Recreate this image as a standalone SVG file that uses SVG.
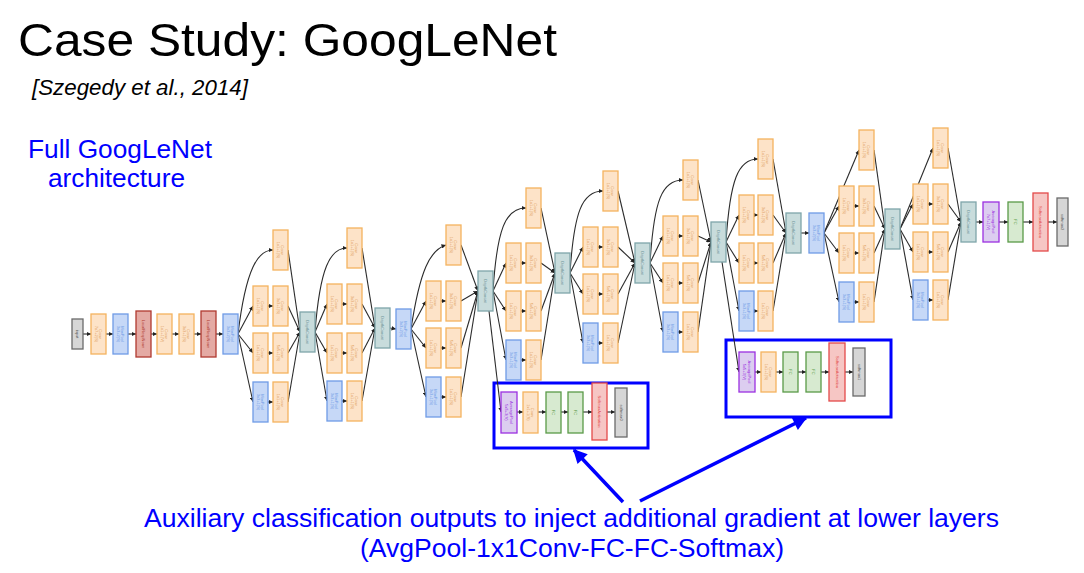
<svg xmlns="http://www.w3.org/2000/svg" width="1084" height="573" viewBox="0 0 1084 573">
<defs>
<style>
.e{fill:none;stroke:#2b2b2b;stroke-width:1.1;marker-end:url(#ah)}
.n rect{stroke-width:1.3}
.n text{font-family:"Liberation Sans",Arial,sans-serif;font-size:4px;text-anchor:middle}
.conv rect{fill:#fde3c8;stroke:#f4b35e}
.conv text{fill:#e0a060}
.pool rect{fill:#c6d8f7;stroke:#6f9be6}
.pool text{fill:#6f9be6}
.lrn rect{fill:#e4aaa4;stroke:#b03a30}
.lrn text{fill:#b03a30}
.dc rect{fill:#c8dcdc;stroke:#7ea5aa}
.dc text{fill:#6a9095}
.avg rect{fill:#dccdf0;stroke:#9b30e0}
.avg text{fill:#9b30e0}
.fc rect{fill:#d7ead0;stroke:#5a9a48}
.fc text{fill:#5a9a48}
.sma rect{fill:#f6c6c4;stroke:#e34a4a}
.sma text{fill:#e34a4a}
.sm rect{fill:#d6d6d6;stroke:#6a6a6a}
.sm text{fill:#555}
.aux{fill:none;stroke:#0000ff;stroke-width:3}
.ba{fill:none;stroke:#0000ff;stroke-width:3.5;marker-end:url(#bh)}
.t{font-family:"Liberation Sans",Arial,sans-serif;fill:#000}
.b{font-family:"Liberation Sans",Arial,sans-serif;fill:#0000ff;font-size:26px}
</style>
<marker id="ah" viewBox="0 0 6 6" refX="6" refY="3" markerWidth="4.5" markerHeight="4.5" markerUnits="userSpaceOnUse" orient="auto"><path d="M0,0 L6,3 L0,6 z" fill="#222"/></marker>
<marker id="bh" viewBox="0 0 10 10" refX="9" refY="5" markerWidth="17" markerHeight="14" markerUnits="userSpaceOnUse" orient="auto"><path d="M0,0 L10,5 L0,10 z" fill="#0000ff"/></marker>
</defs>
<rect width="1084" height="573" fill="#fff"/>

<g id="titles">
<text class="t" x="18" y="56" font-size="47" textLength="539" lengthAdjust="spacingAndGlyphs">Case Study: GoogLeNet</text>
<text class="t" x="32" y="95" font-size="22" font-style="italic" textLength="216" lengthAdjust="spacingAndGlyphs">[Szegedy et al., 2014]</text>
<text class="b" x="28" y="158" textLength="184" lengthAdjust="spacingAndGlyphs">Full GoogLeNet</text>
<text class="b" x="48" y="187" textLength="137" lengthAdjust="spacingAndGlyphs">architecture</text>
<text class="b" x="144" y="527" textLength="855" lengthAdjust="spacingAndGlyphs">Auxiliary classification outputs to inject additional gradient at lower layers</text>
<text class="b" x="360" y="557" textLength="424" lengthAdjust="spacingAndGlyphs">(AvgPool-1x1Conv-FC-FC-Softmax)</text>
</g>

<g id="aux-frames">
<rect class="aux" x="494" y="383" width="154" height="65"/>
<rect class="aux" x="726" y="340" width="165" height="77"/>
<path class="ba" d="M623 502 L574 450"/>
<path class="ba" d="M640 501 L806 418"/>
</g>

<g id="connectors">
<path class="e" d="M83 334 L91 334"/>
<path class="e" d="M106 334 L113 334"/>
<path class="e" d="M128 334 L136 334"/>
<path class="e" d="M151 334 L157 334"/>
<path class="e" d="M172 334 L179 334"/>
<path class="e" d="M194 334 L201 334"/>
<path class="e" d="M216 334 L223 334"/>
<path class="e" d="M238 334 C246 268 258 250 273 250"/>
<path class="e" d="M238 334 L253 306"/>
<path class="e" d="M238 334 L253 353"/>
<path class="e" d="M238 334 L253 402"/>
<path class="e" d="M268 306 L273 306"/>
<path class="e" d="M268 353 L273 353"/>
<path class="e" d="M268 402 L273 402"/>
<path class="e" d="M288 250 L300 332"/>
<path class="e" d="M288 306 L300 332"/>
<path class="e" d="M288 353 L300 332"/>
<path class="e" d="M288 402 L300 332"/>
<path class="e" d="M315 332 C320 268 330 248 347 248"/>
<path class="e" d="M315 332 L327 304"/>
<path class="e" d="M315 332 L327 353"/>
<path class="e" d="M315 332 L327 401"/>
<path class="e" d="M342 304 L347 304"/>
<path class="e" d="M342 353 L347 353"/>
<path class="e" d="M342 401 L347 401"/>
<path class="e" d="M362 248 L375 328"/>
<path class="e" d="M362 304 L375 328"/>
<path class="e" d="M362 353 L375 328"/>
<path class="e" d="M362 401 L375 328"/>
<path class="e" d="M390 328 L396 329"/>
<path class="e" d="M411 329 C420 270 430 250 446 245"/>
<path class="e" d="M411 329 L426 301"/>
<path class="e" d="M411 329 L426 348"/>
<path class="e" d="M411 329 L426 397"/>
<path class="e" d="M441 301 L446 301"/>
<path class="e" d="M441 348 L446 348"/>
<path class="e" d="M441 397 L446 397"/>
<path class="e" d="M461 245 L478 291"/>
<path class="e" d="M461 301 L478 291"/>
<path class="e" d="M461 348 L478 291"/>
<path class="e" d="M461 397 L478 291"/>
<path class="e" d="M493 291 C497 230 505 208 526 208"/>
<path class="e" d="M493 291 L506 263"/>
<path class="e" d="M493 291 L506 311"/>
<path class="e" d="M493 291 L506 360"/>
<path class="e" d="M521 263 L526 263"/>
<path class="e" d="M521 311 L526 311"/>
<path class="e" d="M521 360 L526 360"/>
<path class="e" d="M541 208 L555 273"/>
<path class="e" d="M541 263 L555 273"/>
<path class="e" d="M541 311 L555 273"/>
<path class="e" d="M541 360 L555 273"/>
<path class="e" d="M489 311 L501 412"/>
<path class="e" d="M517 412 L523 412"/>
<path class="e" d="M538 412 L546 412"/>
<path class="e" d="M561 412 L568 412"/>
<path class="e" d="M583 412 L592 412"/>
<path class="e" d="M607 412 L615 412"/>
<path class="e" d="M570 273 C574 212 582 191 603 191"/>
<path class="e" d="M570 273 L583 247"/>
<path class="e" d="M570 273 L583 294"/>
<path class="e" d="M570 273 L583 343"/>
<path class="e" d="M598 247 L603 247"/>
<path class="e" d="M598 294 L603 294"/>
<path class="e" d="M598 343 L603 343"/>
<path class="e" d="M618 191 L635 263"/>
<path class="e" d="M618 247 L635 263"/>
<path class="e" d="M618 294 L635 263"/>
<path class="e" d="M618 343 L635 263"/>
<path class="e" d="M650 263 C654 200 662 180 683 180"/>
<path class="e" d="M650 263 L663 236"/>
<path class="e" d="M650 263 L663 283"/>
<path class="e" d="M650 263 L663 332"/>
<path class="e" d="M678 236 L683 236"/>
<path class="e" d="M678 283 L683 283"/>
<path class="e" d="M678 332 L683 332"/>
<path class="e" d="M698 180 L711 242"/>
<path class="e" d="M698 236 L711 242"/>
<path class="e" d="M698 283 L711 242"/>
<path class="e" d="M698 332 L711 242"/>
<path class="e" d="M722 262 L739 372"/>
<path class="e" d="M755 372 L761 372"/>
<path class="e" d="M776 372 L783 372"/>
<path class="e" d="M798 372 L806 372"/>
<path class="e" d="M821 372 L829 372"/>
<path class="e" d="M845 372 L853 372"/>
<path class="e" d="M726 242 C730 180 738 159 758 159"/>
<path class="e" d="M726 242 L739 215"/>
<path class="e" d="M726 242 L739 263"/>
<path class="e" d="M726 242 L739 311"/>
<path class="e" d="M754 215 L758 215"/>
<path class="e" d="M754 263 L758 263"/>
<path class="e" d="M754 311 L758 311"/>
<path class="e" d="M773 159 L786 233"/>
<path class="e" d="M773 215 L786 233"/>
<path class="e" d="M773 263 L786 233"/>
<path class="e" d="M773 311 L786 233"/>
<path class="e" d="M801 233 L809 233"/>
<path class="e" d="M824 233 L859 150"/>
<path class="e" d="M824 233 L839 206"/>
<path class="e" d="M824 233 L839 253"/>
<path class="e" d="M824 233 L839 302"/>
<path class="e" d="M854 206 L859 206"/>
<path class="e" d="M854 253 L859 253"/>
<path class="e" d="M854 302 L859 302"/>
<path class="e" d="M874 150 L885 229"/>
<path class="e" d="M874 206 L885 229"/>
<path class="e" d="M874 253 L885 229"/>
<path class="e" d="M874 302 L885 229"/>
<path class="e" d="M900 229 L933 148"/>
<path class="e" d="M900 229 L913 204"/>
<path class="e" d="M900 229 L913 252"/>
<path class="e" d="M900 229 L913 300"/>
<path class="e" d="M928 204 L933 204"/>
<path class="e" d="M928 252 L933 252"/>
<path class="e" d="M928 300 L933 300"/>
<path class="e" d="M948 148 L961 222"/>
<path class="e" d="M948 204 L961 222"/>
<path class="e" d="M948 252 L961 222"/>
<path class="e" d="M948 300 L961 222"/>
<path class="e" d="M976 222 L983 222"/>
<path class="e" d="M999 222 L1008 222"/>
<path class="e" d="M1023 222 L1033 222"/>
<path class="e" d="M1048 222 L1057 222"/>
</g>

<g id="input" class="n sm"><rect x="72" y="319" width="11" height="30"/><text transform="translate(77.5,334) rotate(90)" y="1.4">input</text></g>
<g id="conv1" class="n conv"><rect x="91" y="314" width="15" height="40"/><text transform="translate(98.5,334) rotate(90)"><tspan x="0" y="-0.6">Conv</tspan><tspan x="0" y="3.8">7x7+2(S)</tspan></text></g>
<g id="pool1" class="n pool"><rect x="113" y="314" width="15" height="40"/><text transform="translate(120.5,334) rotate(90)"><tspan x="0" y="-0.6">MaxPool</tspan><tspan x="0" y="3.8">3x3+2(S)</tspan></text></g>
<g id="lrn1" class="n lrn"><rect x="136" y="311" width="15" height="46"/><text transform="translate(143.5,334) rotate(90)" y="1.4">LocalRespNorm</text></g>
<g id="conv2" class="n conv"><rect x="157" y="314" width="15" height="40"/><text transform="translate(164.5,334) rotate(90)"><tspan x="0" y="-0.6">Conv</tspan><tspan x="0" y="3.8">1x1+1(V)</tspan></text></g>
<g id="conv3" class="n conv"><rect x="179" y="314" width="15" height="40"/><text transform="translate(186.5,334) rotate(90)"><tspan x="0" y="-0.6">Conv</tspan><tspan x="0" y="3.8">3x3+1(S)</tspan></text></g>
<g id="lrn2" class="n lrn"><rect x="201" y="311" width="15" height="46"/><text transform="translate(208.5,334) rotate(90)" y="1.4">LocalRespNorm</text></g>
<g id="pool2" class="n pool"><rect x="223" y="314" width="15" height="40"/><text transform="translate(230.5,334) rotate(90)"><tspan x="0" y="-0.6">MaxPool</tspan><tspan x="0" y="3.8">3x3+2(S)</tspan></text></g>

<g id="i3a-1" class="n conv"><rect x="273" y="230" width="15" height="40"/><text transform="translate(280.5,250) rotate(90)"><tspan x="0" y="-0.6">Conv</tspan><tspan x="0" y="3.8">1x1+1(S)</tspan></text></g>
<g id="i3a-2a" class="n conv"><rect x="253" y="286" width="15" height="40"/><text transform="translate(260.5,306) rotate(90)"><tspan x="0" y="-0.6">Conv</tspan><tspan x="0" y="3.8">1x1+1(S)</tspan></text></g>
<g id="i3a-2b" class="n conv"><rect x="273" y="286" width="15" height="40"/><text transform="translate(280.5,306) rotate(90)"><tspan x="0" y="-0.6">Conv</tspan><tspan x="0" y="3.8">3x3+1(S)</tspan></text></g>
<g id="i3a-3a" class="n conv"><rect x="253" y="333" width="15" height="40"/><text transform="translate(260.5,353) rotate(90)"><tspan x="0" y="-0.6">Conv</tspan><tspan x="0" y="3.8">1x1+1(S)</tspan></text></g>
<g id="i3a-3b" class="n conv"><rect x="273" y="333" width="15" height="40"/><text transform="translate(280.5,353) rotate(90)"><tspan x="0" y="-0.6">Conv</tspan><tspan x="0" y="3.8">5x5+1(S)</tspan></text></g>
<g id="i3a-4a" class="n pool"><rect x="253" y="382" width="15" height="40"/><text transform="translate(260.5,402) rotate(90)"><tspan x="0" y="-0.6">MaxPool</tspan><tspan x="0" y="3.8">3x3+1(S)</tspan></text></g>
<g id="i3a-4b" class="n conv"><rect x="273" y="382" width="15" height="40"/><text transform="translate(280.5,402) rotate(90)"><tspan x="0" y="-0.6">Conv</tspan><tspan x="0" y="3.8">1x1+1(S)</tspan></text></g>
<g id="i3a-dc" class="n dc"><rect x="300" y="312" width="15" height="40"/><text transform="translate(307.5,332) rotate(90)" y="1.4">DepthConcat</text></g>

<g id="i3b-1" class="n conv"><rect x="347" y="228" width="15" height="40"/><text transform="translate(354.5,248) rotate(90)"><tspan x="0" y="-0.6">Conv</tspan><tspan x="0" y="3.8">1x1+1(S)</tspan></text></g>
<g id="i3b-2a" class="n conv"><rect x="327" y="284" width="15" height="40"/><text transform="translate(334.5,304) rotate(90)"><tspan x="0" y="-0.6">Conv</tspan><tspan x="0" y="3.8">1x1+1(S)</tspan></text></g>
<g id="i3b-2b" class="n conv"><rect x="347" y="284" width="15" height="40"/><text transform="translate(354.5,304) rotate(90)"><tspan x="0" y="-0.6">Conv</tspan><tspan x="0" y="3.8">3x3+1(S)</tspan></text></g>
<g id="i3b-3a" class="n conv"><rect x="327" y="333" width="15" height="40"/><text transform="translate(334.5,353) rotate(90)"><tspan x="0" y="-0.6">Conv</tspan><tspan x="0" y="3.8">1x1+1(S)</tspan></text></g>
<g id="i3b-3b" class="n conv"><rect x="347" y="333" width="15" height="40"/><text transform="translate(354.5,353) rotate(90)"><tspan x="0" y="-0.6">Conv</tspan><tspan x="0" y="3.8">5x5+1(S)</tspan></text></g>
<g id="i3b-4a" class="n pool"><rect x="327" y="381" width="15" height="40"/><text transform="translate(334.5,401) rotate(90)"><tspan x="0" y="-0.6">MaxPool</tspan><tspan x="0" y="3.8">3x3+1(S)</tspan></text></g>
<g id="i3b-4b" class="n conv"><rect x="347" y="381" width="15" height="40"/><text transform="translate(354.5,401) rotate(90)"><tspan x="0" y="-0.6">Conv</tspan><tspan x="0" y="3.8">1x1+1(S)</tspan></text></g>
<g id="i3b-dc" class="n dc"><rect x="375" y="308" width="15" height="40"/><text transform="translate(382.5,328) rotate(90)" y="1.4">DepthConcat</text></g>
<g id="pool3" class="n pool"><rect x="396" y="309" width="15" height="40"/><text transform="translate(403.5,329) rotate(90)"><tspan x="0" y="-0.6">MaxPool</tspan><tspan x="0" y="3.8">3x3+2(S)</tspan></text></g>

<g id="i4a-1" class="n conv"><rect x="446" y="225" width="15" height="40"/><text transform="translate(453.5,245) rotate(90)"><tspan x="0" y="-0.6">Conv</tspan><tspan x="0" y="3.8">1x1+1(S)</tspan></text></g>
<g id="i4a-2a" class="n conv"><rect x="426" y="281" width="15" height="40"/><text transform="translate(433.5,301) rotate(90)"><tspan x="0" y="-0.6">Conv</tspan><tspan x="0" y="3.8">1x1+1(S)</tspan></text></g>
<g id="i4a-2b" class="n conv"><rect x="446" y="281" width="15" height="40"/><text transform="translate(453.5,301) rotate(90)"><tspan x="0" y="-0.6">Conv</tspan><tspan x="0" y="3.8">3x3+1(S)</tspan></text></g>
<g id="i4a-3a" class="n conv"><rect x="426" y="328" width="15" height="40"/><text transform="translate(433.5,348) rotate(90)"><tspan x="0" y="-0.6">Conv</tspan><tspan x="0" y="3.8">1x1+1(S)</tspan></text></g>
<g id="i4a-3b" class="n conv"><rect x="446" y="328" width="15" height="40"/><text transform="translate(453.5,348) rotate(90)"><tspan x="0" y="-0.6">Conv</tspan><tspan x="0" y="3.8">5x5+1(S)</tspan></text></g>
<g id="i4a-4a" class="n pool"><rect x="426" y="377" width="15" height="40"/><text transform="translate(433.5,397) rotate(90)"><tspan x="0" y="-0.6">MaxPool</tspan><tspan x="0" y="3.8">3x3+1(S)</tspan></text></g>
<g id="i4a-4b" class="n conv"><rect x="446" y="377" width="15" height="40"/><text transform="translate(453.5,397) rotate(90)"><tspan x="0" y="-0.6">Conv</tspan><tspan x="0" y="3.8">1x1+1(S)</tspan></text></g>
<g id="i4a-dc" class="n dc"><rect x="478" y="271" width="15" height="40"/><text transform="translate(485.5,291) rotate(90)" y="1.4">DepthConcat</text></g>

<g id="i4b-1" class="n conv"><rect x="526" y="188" width="15" height="40"/><text transform="translate(533.5,208) rotate(90)"><tspan x="0" y="-0.6">Conv</tspan><tspan x="0" y="3.8">1x1+1(S)</tspan></text></g>
<g id="i4b-2a" class="n conv"><rect x="506" y="243" width="15" height="40"/><text transform="translate(513.5,263) rotate(90)"><tspan x="0" y="-0.6">Conv</tspan><tspan x="0" y="3.8">1x1+1(S)</tspan></text></g>
<g id="i4b-2b" class="n conv"><rect x="526" y="243" width="15" height="40"/><text transform="translate(533.5,263) rotate(90)"><tspan x="0" y="-0.6">Conv</tspan><tspan x="0" y="3.8">3x3+1(S)</tspan></text></g>
<g id="i4b-3a" class="n conv"><rect x="506" y="291" width="15" height="40"/><text transform="translate(513.5,311) rotate(90)"><tspan x="0" y="-0.6">Conv</tspan><tspan x="0" y="3.8">1x1+1(S)</tspan></text></g>
<g id="i4b-3b" class="n conv"><rect x="526" y="291" width="15" height="40"/><text transform="translate(533.5,311) rotate(90)"><tspan x="0" y="-0.6">Conv</tspan><tspan x="0" y="3.8">5x5+1(S)</tspan></text></g>
<g id="i4b-4a" class="n pool"><rect x="506" y="340" width="15" height="40"/><text transform="translate(513.5,360) rotate(90)"><tspan x="0" y="-0.6">MaxPool</tspan><tspan x="0" y="3.8">3x3+1(S)</tspan></text></g>
<g id="i4b-4b" class="n conv"><rect x="526" y="340" width="15" height="40"/><text transform="translate(533.5,360) rotate(90)"><tspan x="0" y="-0.6">Conv</tspan><tspan x="0" y="3.8">1x1+1(S)</tspan></text></g>
<g id="i4b-dc" class="n dc"><rect x="555" y="253" width="15" height="40"/><text transform="translate(562.5,273) rotate(90)" y="1.4">DepthConcat</text></g>

<g id="aux1-avg" class="n avg"><rect x="501" y="392" width="16" height="41"/><text transform="translate(509,412.5) rotate(90)"><tspan x="0" y="-0.6">AveragePool</tspan><tspan x="0" y="3.8">5x5+3(V)</tspan></text></g>
<g id="aux1-conv" class="n conv"><rect x="523" y="392" width="15" height="41"/><text transform="translate(530.5,412.5) rotate(90)"><tspan x="0" y="-0.6">Conv</tspan><tspan x="0" y="3.8">1x1+1(S)</tspan></text></g>
<g id="aux1-fc1" class="n fc"><rect x="546" y="392" width="15" height="41"/><text transform="translate(553.5,412.5) rotate(90)" y="1.4">FC</text></g>
<g id="aux1-fc2" class="n fc"><rect x="568" y="392" width="15" height="41"/><text transform="translate(575.5,412.5) rotate(90)" y="1.4">FC</text></g>
<g id="aux1-sma" class="n sma"><rect x="592" y="383" width="15" height="57"/><text transform="translate(599.5,411.5) rotate(90)" y="1.4">SoftmaxActivation</text></g>
<g id="aux1-sm" class="n sm"><rect x="615" y="388" width="12" height="49"/><text transform="translate(621,412.5) rotate(90)" y="1.4">softmax0</text></g>

<g id="i4c-1" class="n conv"><rect x="603" y="171" width="15" height="40"/><text transform="translate(610.5,191) rotate(90)"><tspan x="0" y="-0.6">Conv</tspan><tspan x="0" y="3.8">1x1+1(S)</tspan></text></g>
<g id="i4c-2a" class="n conv"><rect x="583" y="227" width="15" height="40"/><text transform="translate(590.5,247) rotate(90)"><tspan x="0" y="-0.6">Conv</tspan><tspan x="0" y="3.8">1x1+1(S)</tspan></text></g>
<g id="i4c-2b" class="n conv"><rect x="603" y="227" width="15" height="40"/><text transform="translate(610.5,247) rotate(90)"><tspan x="0" y="-0.6">Conv</tspan><tspan x="0" y="3.8">3x3+1(S)</tspan></text></g>
<g id="i4c-3a" class="n conv"><rect x="583" y="274" width="15" height="40"/><text transform="translate(590.5,294) rotate(90)"><tspan x="0" y="-0.6">Conv</tspan><tspan x="0" y="3.8">1x1+1(S)</tspan></text></g>
<g id="i4c-3b" class="n conv"><rect x="603" y="274" width="15" height="40"/><text transform="translate(610.5,294) rotate(90)"><tspan x="0" y="-0.6">Conv</tspan><tspan x="0" y="3.8">5x5+1(S)</tspan></text></g>
<g id="i4c-4a" class="n pool"><rect x="583" y="323" width="15" height="40"/><text transform="translate(590.5,343) rotate(90)"><tspan x="0" y="-0.6">MaxPool</tspan><tspan x="0" y="3.8">3x3+1(S)</tspan></text></g>
<g id="i4c-4b" class="n conv"><rect x="603" y="323" width="15" height="40"/><text transform="translate(610.5,343) rotate(90)"><tspan x="0" y="-0.6">Conv</tspan><tspan x="0" y="3.8">1x1+1(S)</tspan></text></g>
<g id="i4c-dc" class="n dc"><rect x="635" y="243" width="15" height="40"/><text transform="translate(642.5,263) rotate(90)" y="1.4">DepthConcat</text></g>

<g id="i4d-1" class="n conv"><rect x="683" y="160" width="15" height="40"/><text transform="translate(690.5,180) rotate(90)"><tspan x="0" y="-0.6">Conv</tspan><tspan x="0" y="3.8">1x1+1(S)</tspan></text></g>
<g id="i4d-2a" class="n conv"><rect x="663" y="216" width="15" height="40"/><text transform="translate(670.5,236) rotate(90)"><tspan x="0" y="-0.6">Conv</tspan><tspan x="0" y="3.8">1x1+1(S)</tspan></text></g>
<g id="i4d-2b" class="n conv"><rect x="683" y="216" width="15" height="40"/><text transform="translate(690.5,236) rotate(90)"><tspan x="0" y="-0.6">Conv</tspan><tspan x="0" y="3.8">3x3+1(S)</tspan></text></g>
<g id="i4d-3a" class="n conv"><rect x="663" y="263" width="15" height="40"/><text transform="translate(670.5,283) rotate(90)"><tspan x="0" y="-0.6">Conv</tspan><tspan x="0" y="3.8">1x1+1(S)</tspan></text></g>
<g id="i4d-3b" class="n conv"><rect x="683" y="263" width="15" height="40"/><text transform="translate(690.5,283) rotate(90)"><tspan x="0" y="-0.6">Conv</tspan><tspan x="0" y="3.8">5x5+1(S)</tspan></text></g>
<g id="i4d-4a" class="n pool"><rect x="663" y="312" width="15" height="40"/><text transform="translate(670.5,332) rotate(90)"><tspan x="0" y="-0.6">MaxPool</tspan><tspan x="0" y="3.8">3x3+1(S)</tspan></text></g>
<g id="i4d-4b" class="n conv"><rect x="683" y="312" width="15" height="40"/><text transform="translate(690.5,332) rotate(90)"><tspan x="0" y="-0.6">Conv</tspan><tspan x="0" y="3.8">1x1+1(S)</tspan></text></g>
<g id="i4d-dc" class="n dc"><rect x="711" y="222" width="15" height="40"/><text transform="translate(718.5,242) rotate(90)" y="1.4">DepthConcat</text></g>

<g id="aux2-avg" class="n avg"><rect x="739" y="352" width="16" height="40"/><text transform="translate(747,372) rotate(90)"><tspan x="0" y="-0.6">AveragePool</tspan><tspan x="0" y="3.8">5x5+3(V)</tspan></text></g>
<g id="aux2-conv" class="n conv"><rect x="761" y="352" width="15" height="40"/><text transform="translate(768.5,372) rotate(90)"><tspan x="0" y="-0.6">Conv</tspan><tspan x="0" y="3.8">1x1+1(S)</tspan></text></g>
<g id="aux2-fc1" class="n fc"><rect x="783" y="352" width="15" height="40"/><text transform="translate(790.5,372) rotate(90)" y="1.4">FC</text></g>
<g id="aux2-fc2" class="n fc"><rect x="806" y="352" width="15" height="40"/><text transform="translate(813.5,372) rotate(90)" y="1.4">FC</text></g>
<g id="aux2-sma" class="n sma"><rect x="829" y="343" width="16" height="58"/><text transform="translate(837,372) rotate(90)" y="1.4">SoftmaxActivation</text></g>
<g id="aux2-sm" class="n sm"><rect x="853" y="348" width="12" height="48"/><text transform="translate(859,372) rotate(90)" y="1.4">softmax1</text></g>

<g id="i4e-1" class="n conv"><rect x="758" y="139" width="15" height="40"/><text transform="translate(765.5,159) rotate(90)"><tspan x="0" y="-0.6">Conv</tspan><tspan x="0" y="3.8">1x1+1(S)</tspan></text></g>
<g id="i4e-2a" class="n conv"><rect x="739" y="195" width="15" height="40"/><text transform="translate(746.5,215) rotate(90)"><tspan x="0" y="-0.6">Conv</tspan><tspan x="0" y="3.8">1x1+1(S)</tspan></text></g>
<g id="i4e-2b" class="n conv"><rect x="758" y="195" width="15" height="40"/><text transform="translate(765.5,215) rotate(90)"><tspan x="0" y="-0.6">Conv</tspan><tspan x="0" y="3.8">3x3+1(S)</tspan></text></g>
<g id="i4e-3a" class="n conv"><rect x="739" y="243" width="15" height="40"/><text transform="translate(746.5,263) rotate(90)"><tspan x="0" y="-0.6">Conv</tspan><tspan x="0" y="3.8">1x1+1(S)</tspan></text></g>
<g id="i4e-3b" class="n conv"><rect x="758" y="243" width="15" height="40"/><text transform="translate(765.5,263) rotate(90)"><tspan x="0" y="-0.6">Conv</tspan><tspan x="0" y="3.8">5x5+1(S)</tspan></text></g>
<g id="i4e-4a" class="n pool"><rect x="739" y="291" width="15" height="40"/><text transform="translate(746.5,311) rotate(90)"><tspan x="0" y="-0.6">MaxPool</tspan><tspan x="0" y="3.8">3x3+1(S)</tspan></text></g>
<g id="i4e-4b" class="n conv"><rect x="758" y="291" width="15" height="40"/><text transform="translate(765.5,311) rotate(90)"><tspan x="0" y="-0.6">Conv</tspan><tspan x="0" y="3.8">1x1+1(S)</tspan></text></g>
<g id="i4e-dc" class="n dc"><rect x="786" y="213" width="15" height="40"/><text transform="translate(793.5,233) rotate(90)" y="1.4">DepthConcat</text></g>
<g id="pool4" class="n pool"><rect x="809" y="213" width="15" height="40"/><text transform="translate(816.5,233) rotate(90)"><tspan x="0" y="-0.6">MaxPool</tspan><tspan x="0" y="3.8">3x3+2(S)</tspan></text></g>

<g id="i5a-1" class="n conv"><rect x="859" y="130" width="15" height="40"/><text transform="translate(866.5,150) rotate(90)"><tspan x="0" y="-0.6">Conv</tspan><tspan x="0" y="3.8">1x1+1(S)</tspan></text></g>
<g id="i5a-2a" class="n conv"><rect x="839" y="186" width="15" height="40"/><text transform="translate(846.5,206) rotate(90)"><tspan x="0" y="-0.6">Conv</tspan><tspan x="0" y="3.8">1x1+1(S)</tspan></text></g>
<g id="i5a-2b" class="n conv"><rect x="859" y="186" width="15" height="40"/><text transform="translate(866.5,206) rotate(90)"><tspan x="0" y="-0.6">Conv</tspan><tspan x="0" y="3.8">3x3+1(S)</tspan></text></g>
<g id="i5a-3a" class="n conv"><rect x="839" y="233" width="15" height="40"/><text transform="translate(846.5,253) rotate(90)"><tspan x="0" y="-0.6">Conv</tspan><tspan x="0" y="3.8">1x1+1(S)</tspan></text></g>
<g id="i5a-3b" class="n conv"><rect x="859" y="233" width="15" height="40"/><text transform="translate(866.5,253) rotate(90)"><tspan x="0" y="-0.6">Conv</tspan><tspan x="0" y="3.8">5x5+1(S)</tspan></text></g>
<g id="i5a-4a" class="n pool"><rect x="839" y="282" width="15" height="40"/><text transform="translate(846.5,302) rotate(90)"><tspan x="0" y="-0.6">MaxPool</tspan><tspan x="0" y="3.8">3x3+1(S)</tspan></text></g>
<g id="i5a-4b" class="n conv"><rect x="859" y="282" width="15" height="40"/><text transform="translate(866.5,302) rotate(90)"><tspan x="0" y="-0.6">Conv</tspan><tspan x="0" y="3.8">1x1+1(S)</tspan></text></g>
<g id="i5a-dc" class="n dc"><rect x="885" y="209" width="15" height="40"/><text transform="translate(892.5,229) rotate(90)" y="1.4">DepthConcat</text></g>

<g id="i5b-1" class="n conv"><rect x="933" y="128" width="15" height="40"/><text transform="translate(940.5,148) rotate(90)"><tspan x="0" y="-0.6">Conv</tspan><tspan x="0" y="3.8">1x1+1(S)</tspan></text></g>
<g id="i5b-2a" class="n conv"><rect x="913" y="184" width="15" height="40"/><text transform="translate(920.5,204) rotate(90)"><tspan x="0" y="-0.6">Conv</tspan><tspan x="0" y="3.8">1x1+1(S)</tspan></text></g>
<g id="i5b-2b" class="n conv"><rect x="933" y="184" width="15" height="40"/><text transform="translate(940.5,204) rotate(90)"><tspan x="0" y="-0.6">Conv</tspan><tspan x="0" y="3.8">3x3+1(S)</tspan></text></g>
<g id="i5b-3a" class="n conv"><rect x="913" y="232" width="15" height="40"/><text transform="translate(920.5,252) rotate(90)"><tspan x="0" y="-0.6">Conv</tspan><tspan x="0" y="3.8">1x1+1(S)</tspan></text></g>
<g id="i5b-3b" class="n conv"><rect x="933" y="232" width="15" height="40"/><text transform="translate(940.5,252) rotate(90)"><tspan x="0" y="-0.6">Conv</tspan><tspan x="0" y="3.8">5x5+1(S)</tspan></text></g>
<g id="i5b-4a" class="n pool"><rect x="913" y="280" width="15" height="40"/><text transform="translate(920.5,300) rotate(90)"><tspan x="0" y="-0.6">MaxPool</tspan><tspan x="0" y="3.8">3x3+1(S)</tspan></text></g>
<g id="i5b-4b" class="n conv"><rect x="933" y="280" width="15" height="40"/><text transform="translate(940.5,300) rotate(90)"><tspan x="0" y="-0.6">Conv</tspan><tspan x="0" y="3.8">1x1+1(S)</tspan></text></g>
<g id="i5b-dc" class="n dc"><rect x="961" y="202" width="15" height="40"/><text transform="translate(968.5,222) rotate(90)" y="1.4">DepthConcat</text></g>

<g id="avgpool" class="n avg"><rect x="983" y="202" width="16" height="40"/><text transform="translate(991,222) rotate(90)"><tspan x="0" y="-0.6">AveragePool</tspan><tspan x="0" y="3.8">7x7+1(V)</tspan></text></g>
<g id="fc" class="n fc"><rect x="1008" y="202" width="15" height="40"/><text transform="translate(1015.5,222) rotate(90)" y="1.4">FC</text></g>
<g id="sma" class="n sma"><rect x="1033" y="193" width="15" height="58"/><text transform="translate(1040.5,222) rotate(90)" y="1.4">SoftmaxActivation</text></g>
<g id="softmax2" class="n sm"><rect x="1057" y="198" width="11" height="48"/><text transform="translate(1062.5,222) rotate(90)" y="1.4">softmax2</text></g>
</svg>
